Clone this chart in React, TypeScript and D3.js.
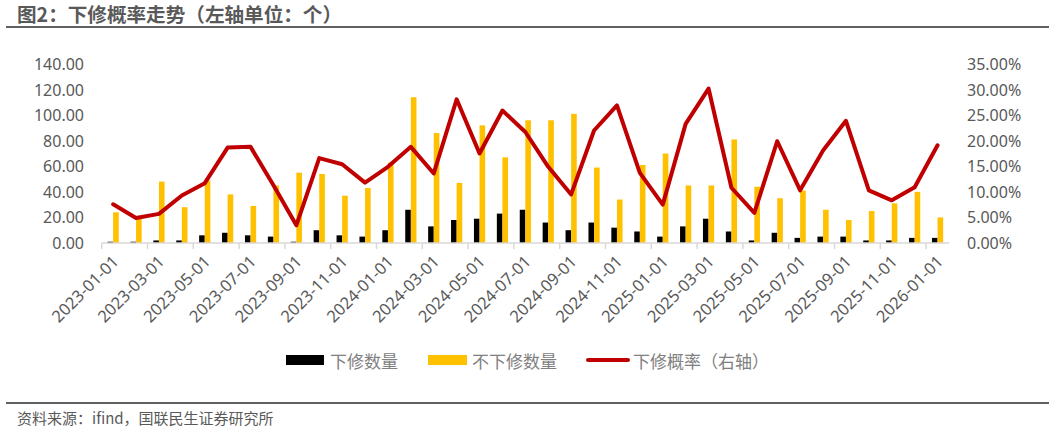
import React from "react";
import * as d3 from "d3";

const months: string[] = [
  "2023-01-01","2023-02-01","2023-03-01","2023-04-01","2023-05-01","2023-06-01",
  "2023-07-01","2023-08-01","2023-09-01","2023-10-01","2023-11-01","2023-12-01",
  "2024-01-01","2024-02-01","2024-03-01","2024-04-01","2024-05-01","2024-06-01",
  "2024-07-01","2024-08-01","2024-09-01","2024-10-01","2024-11-01","2024-12-01",
  "2025-01-01","2025-02-01","2025-03-01","2025-04-01","2025-05-01","2025-06-01",
  "2025-07-01","2025-08-01","2025-09-01","2025-10-01","2025-11-01","2025-12-01",
  "2026-01-01",
];

// 下修数量 (left axis)
const downCount: number[] = [
  1, 1, 2, 2, 6, 8, 6, 5, 1, 10, 6, 5,
  10, 26, 13, 18, 19, 23, 26, 16, 10, 16, 12, 9,
  5, 13, 19, 9, 2, 8, 4, 5, 5, 2, 2, 4,
  4,
];

// 不下修数量 (left axis)
const notDownCount: number[] = [
  24, 19, 48, 28, 49, 38, 29, 45, 55, 54, 37, 43,
  63, 114, 86, 47, 92, 67, 96, 96, 101, 59, 34, 61,
  70, 45, 45, 81, 44, 35, 41, 26, 18, 25, 31, 40,
  20,
];

// 下修概率 (right axis)
const downRate: number[] = [
  0.0757, 0.049, 0.057, 0.093, 0.117, 0.1865, 0.188, 0.113, 0.0346, 0.166, 0.154, 0.118,
  0.149, 0.188, 0.136, 0.281, 0.175, 0.259, 0.217, 0.149, 0.095, 0.22, 0.269, 0.137,
  0.075, 0.233, 0.302, 0.108, 0.059, 0.199, 0.103, 0.181, 0.239, 0.103, 0.0835, 0.109,
  0.191,
];

const leftTicks: number[] = [0, 20, 40, 60, 80, 100, 120, 140];
const rightTicks: number[] = [0, 0.05, 0.1, 0.15, 0.2, 0.25, 0.3, 0.35];

const titleText = "图2：下修概率走势（左轴单位：个）";
const sourceText = "资料来源：ifind，国联民生证券研究所";
const legendLabels: string[] = ["下修数量", "不下修数量", "下修概率（右轴）"];

const W = 1055;
const H = 432;
const plotLeft = 101.7;
const plotRight = 949;
const plotTop = 64;
const plotBottom = 243;

const CJK = '"Noto Sans CJK SC", "Noto Sans", sans-serif';
const NUM = '"Noto Sans", "Noto Sans CJK SC", sans-serif';

export default function App() {
  const x = d3.scaleBand<string>().domain(months).range([plotLeft, plotRight]).padding(0);
  const yL = d3.scaleLinear().domain([0, 140]).range([plotBottom, plotTop]);
  const yR = d3.scaleLinear().domain([0, 0.35]).range([plotBottom, plotTop]);
  const bw = 5.6;
  const center = (m: string) => (x(m) as number) + x.bandwidth() / 2;

  const line = d3
    .line<number>()
    .x((_, i) => center(months[i]))
    .y((d) => yR(d));

  const fmtL = d3.format(".2f");
  const fmtR = d3.format(".2%");

  return (
    <div style={{ position: "fixed", left: 0, top: 0 }}>
      <svg width={W} height={H} style={{ display: "block", background: "#fff" }}>
        {/* title */}
        <text x={17} y={22} fontFamily={CJK} fontWeight={700} fontSize={19.6} fill="#595959">
          {titleText}
        </text>
        <line x1={6} x2={1049} y1={27} y2={27} stroke="#606060" strokeWidth={2} />

        {/* left axis labels */}
        {leftTicks.map((t) => (
          <text key={"l" + t} x={84} y={yL(t)} textAnchor="end" dominantBaseline="central"
            fontFamily={NUM} fontSize={16} fill="#595959">
            {fmtL(t)}
          </text>
        ))}
        {/* right axis labels */}
        {rightTicks.map((t) => (
          <text key={"r" + t} x={967} y={yR(t)} textAnchor="start" dominantBaseline="central"
            fontFamily={NUM} fontSize={16} fill="#595959">
            {fmtR(t)}
          </text>
        ))}

        {/* bars */}
        {months.map((m, i) => (
          <g key={"b" + m}>
            <rect x={center(m) - bw} y={yL(downCount[i])} width={bw}
              height={plotBottom - yL(downCount[i])} fill="#000000" />
            <rect x={center(m)} y={yL(notDownCount[i])} width={bw}
              height={plotBottom - yL(notDownCount[i])} fill="#FFC000" />
          </g>
        ))}

        {/* x axis */}
        <line x1={plotLeft} x2={plotRight} y1={plotBottom} y2={plotBottom} stroke="#d9d9d9" strokeWidth={1.5} />
        {months.map((m, i) =>
          i % 2 === 0 ? (
            <line key={"t" + m} x1={x(m) as number} x2={x(m) as number} y1={plotBottom} y2={plotBottom + 6}
              stroke="#d9d9d9" strokeWidth={1.5} />
          ) : null
        )}
        {months.map((m, i) =>
          i % 2 === 0 ? (
            <text key={"xl" + m} transform={`translate(${center(m) + 2},${258}) rotate(-45)`}
              textAnchor="end" dominantBaseline="central" fontFamily={NUM} fontSize={16.5} fill="#595959">
              {m}
            </text>
          ) : null
        )}

        {/* rate line */}
        <path d={line(downRate) || ""} fill="none" stroke="#C00000" strokeWidth={4}
          strokeLinejoin="round" strokeLinecap="round" />

        {/* legend */}
        <rect x={286} y={355} width={38} height={10} fill="#000000" />
        <text x={330} y={360} dominantBaseline="central" fontFamily={CJK} fontSize={17} fill="#808080">
          {legendLabels[0]}
        </text>
        <rect x={428} y={355} width={39} height={10} fill="#FFC000" />
        <text x={472} y={360} dominantBaseline="central" fontFamily={CJK} fontSize={17} fill="#808080">
          {legendLabels[1]}
        </text>
        <line x1={588} x2={628} y1={360} y2={360} stroke="#C00000" strokeWidth={4} strokeLinecap="round" />
        <text x={633} y={360} dominantBaseline="central" fontFamily={CJK} fontSize={17} fill="#808080">
          {legendLabels[2]}
        </text>

        {/* footer */}
        <line x1={6} x2={1049} y1={403} y2={403} stroke="#606060" strokeWidth={2} />
        <text x={17} y={424} fontFamily={CJK} fontSize={15} fill="#595959">
          {sourceText}
        </text>
      </svg>
    </div>
  );
}
